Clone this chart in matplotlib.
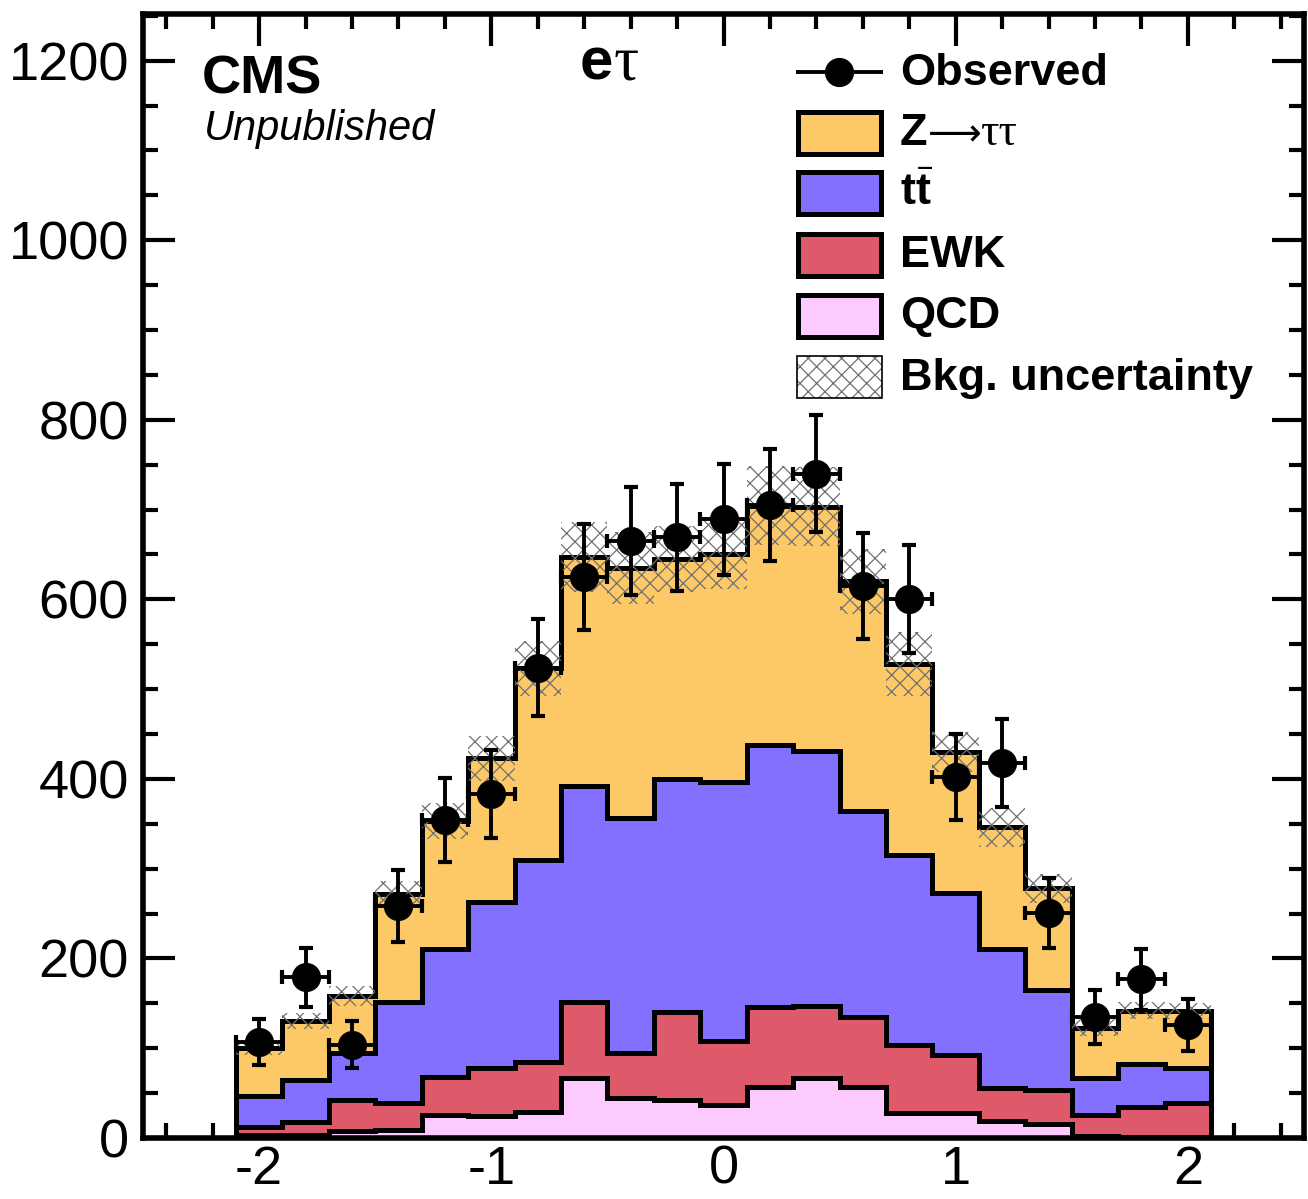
import numpy as np
import matplotlib
matplotlib.use("Agg")
import matplotlib.pyplot as plt
from matplotlib.patches import Rectangle
from matplotlib.lines import Line2D
from matplotlib.ticker import MultipleLocator

plt.rcParams['font.family'] = ['Liberation Sans', 'DejaVu Sans']
plt.rcParams['mathtext.fontset'] = 'custom'
plt.rcParams['mathtext.rm'] = 'Liberation Serif'
plt.rcParams['mathtext.bf'] = 'Liberation Sans:bold'
plt.rcParams['mathtext.it'] = 'Liberation Serif:italic'
plt.rcParams['axes.unicode_minus'] = False
plt.rcParams['hatch.linewidth'] = 0.9

# ---------------- data ----------------
bin_edges = [-2.1, -1.9, -1.7, -1.5, -1.3, -1.1, -0.9, -0.7, -0.5, -0.3, -0.1,
             0.1, 0.3, 0.5, 0.7, 0.9, 1.1, 1.3, 1.5, 1.7, 1.9, 2.1]
bin_centers = [-2.0, -1.8, -1.6, -1.4, -1.2, -1.0, -0.8, -0.6, -0.4, -0.2, 0.0,
               0.2, 0.4, 0.6, 0.8, 1.0, 1.2, 1.4, 1.6, 1.8, 2.0]

qcd   = [3, 3, 8, 9, 26, 24, 29, 67, 45, 42, 37, 57, 67, 57, 28, 28, 19, 16, 2, 1, 1]
ewk   = [9, 15, 34, 30, 42, 54, 56, 84, 50, 98, 71, 89, 80, 78, 76, 64, 37, 38, 24, 33, 38]
ttbar = [35, 47, 53, 113, 143, 185, 225, 241, 261, 260, 288, 292, 284, 229, 211, 181, 154, 111, 41, 48, 39]
ztt   = [53, 65, 63, 120, 142, 160, 213, 255, 279, 245, 255, 266, 272, 256, 213, 157, 136, 113, 56, 60, 63]

observed     = [107, 179, 104, 258, 354, 383, 524, 625, 665, 669, 689, 705, 740, 615, 600, 402, 418, 251, 135, 177, 126]
observed_err = [26, 33, 26, 40, 47, 49, 54, 59, 60, 60, 62, 62, 65, 59, 60, 48, 49, 39, 30, 34, 29]
bkg_unc      = [8, 9, 11, 14, 20, 25, 31, 39, 40, 37, 39, 44, 44, 36, 36, 22, 22, 16, 9, 9, 9]

labels = ['QCD', 'EWK', 'ttbar', 'Ztt']
colors = ['#FCCAFE', '#DE5A6A', '#8470FF', '#FDC866']

# ---------------- figure ----------------
W, H = 1308, 1199
fig = plt.figure(figsize=(W / 100, H / 100), dpi=100)
def fx(px):
    return px / W
def fy(py):
    return 1 - py / H

ax = fig.add_axes([fx(143), fy(1138), (1304 - 143) / W, (1138 - 14) / H])

edges = np.array(bin_edges)
stack = np.cumsum(np.array([qcd, ewk, ttbar, ztt], dtype=float), axis=0)
for i in reversed(range(4)):
    ax.stairs(stack[i], edges, baseline=0, fill=True, facecolor=colors[i],
              edgecolor='black', linewidth=3.6, joinstyle='miter', zorder=2 + (3 - i) * 0.1)

total = stack[-1]
unc = np.array(bkg_unc, dtype=float)
ax.stairs(total + unc, edges, baseline=total - unc, fill=True, facecolor='none',
          edgecolor='#707070', linewidth=0, hatch='xx', zorder=3)

half_w = np.diff(edges) / 2
ax.errorbar(bin_centers, observed, yerr=observed_err, xerr=half_w, fmt='o',
            color='black', markersize=20, elinewidth=2.8, capsize=5,
            capthick=3, zorder=5)

ax.set_xlim(-2.5, 2.5)
ax.set_ylim(0, 1252)
ax.xaxis.set_major_locator(MultipleLocator(1))
ax.xaxis.set_minor_locator(MultipleLocator(0.2))
ax.yaxis.set_major_locator(MultipleLocator(200))
ax.yaxis.set_minor_locator(MultipleLocator(50))
ax.tick_params(which='both', direction='in', top=True, right=True, width=3)
ax.tick_params(which='major', length=23, labelsize=39)
ax.tick_params(which='minor', length=11)
ax.tick_params(axis='x', which='major', pad=5)
ax.tick_params(axis='y', which='major', pad=10)
for s in ax.spines.values():
    s.set_linewidth(4)

# ---------------- texts ----------------
fig.text(fx(202), fy(93), 'CMS', fontsize=39, fontweight='bold', va='baseline')
fig.text(fx(204), fy(140), 'Unpublished', fontsize=30, fontstyle='italic', va='baseline')

fig.canvas.draw()
renderer = fig.canvas.get_renderer()

SERIF = ['Liberation Serif', 'DejaVu Serif']

def chain_text(x_px, base_py, parts, size):
    x = fx(x_px)
    for txt, props in parts:
        kw = dict(fontsize=size, va='baseline')
        kw.update(props)
        t = fig.text(x, fy(base_py), txt, **kw)
        bb = t.get_window_extent(renderer=renderer)
        x = bb.x1 / W

chain_text(580, 79, [('e', dict(fontweight='bold')), ('τ', dict(family=SERIF, fontsize=45))], 43)

# ---------------- legend ----------------
leg_x0, leg_x1 = 797.5, 880.5
text_x = 900
row_base = [85, 145, 205, 267, 328, 390]
row_mid = [72, 133, 193, 255, 316, 377]
LS = 32.5

# Observed
fig.add_artist(Line2D([fx(leg_x0), fx(leg_x1)], [fy(row_mid[0])] * 2, color='black',
                      linewidth=2.8, transform=fig.transFigure))
fig.add_artist(Line2D([fx((leg_x0 + leg_x1) / 2)], [fy(row_mid[0])], marker='o',
                      markersize=20, color='black', transform=fig.transFigure))
fig.text(fx(text_x), fy(row_base[0]), 'Observed', fontsize=LS, fontweight='bold', va='baseline')

legend_order = [3, 2, 1, 0]
for k, ci in enumerate(legend_order):
    r = k + 1
    fig.add_artist(Rectangle((fx(leg_x0), fy(row_mid[r] + 21)), (leg_x1 - leg_x0) / W, 42 / H,
                             facecolor=colors[ci], edgecolor='black', linewidth=3.6,
                             joinstyle='miter', transform=fig.transFigure))

chain_text(text_x, row_base[1], [('Z', dict(fontweight='bold')),
                                 ('⟶', dict(family=['DejaVu Sans'], fontsize=27)),
                                 ('ττ', dict(family=SERIF, fontsize=33))], LS)
fig.text(fx(text_x), fy(row_base[2]), r'$\mathbf{t}\bar{\mathbf{t}}$', fontsize=LS, va='baseline')
fig.text(fx(text_x), fy(row_base[3]), 'EWK', fontsize=LS, fontweight='bold', va='baseline')
fig.text(fx(text_x), fy(row_base[4]), 'QCD', fontsize=LS, fontweight='bold', va='baseline')

fig.add_artist(Rectangle((fx(797), fy(398)), 85 / W, 42 / H, facecolor='white',
                         edgecolor='#707070', hatch='xx', linewidth=0, transform=fig.transFigure))
fig.add_artist(Rectangle((fx(797), fy(398)), 85 / W, 42 / H, facecolor='none',
                         edgecolor='black', linewidth=1.2, transform=fig.transFigure))
fig.text(fx(text_x), fy(row_base[5]), 'Bkg. uncertainty', fontsize=LS, fontweight='bold', va='baseline')

fig.savefig('out.png', dpi=100)
